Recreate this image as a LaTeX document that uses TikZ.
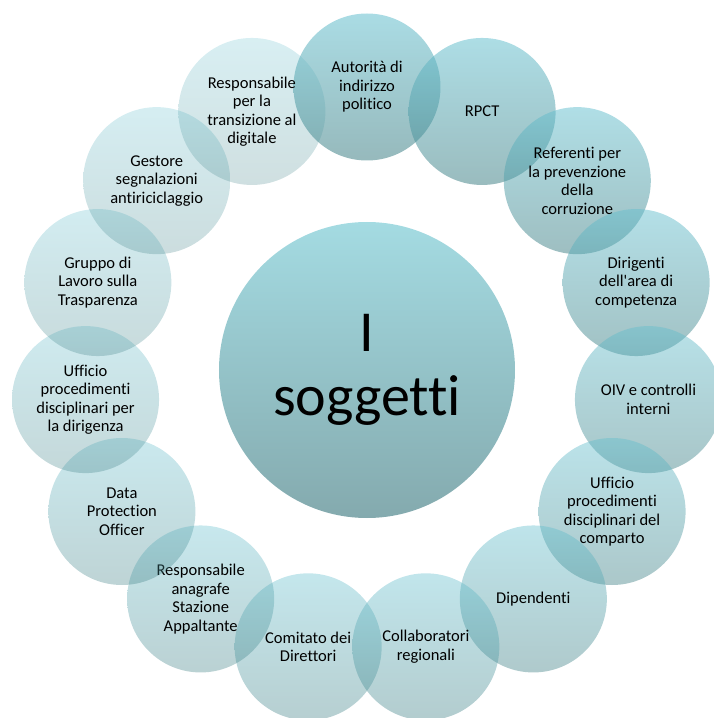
\documentclass[tikz,border=0pt]{standalone}
\usepackage{fontspec}
\setmainfont{Carlito}[Ligatures={NoCommon}]
\usepackage{tikz}
\usetikzlibrary{positioning}

\definecolor{hubtop}{RGB}{164,219,226}
\definecolor{hubbot}{RGB}{132,170,174}
\definecolor{sogtop}{RGB}{100,191,206}
\definecolor{sogbot}{RGB}{64,128,133}

\begin{document}
\begin{tikzpicture}[x=1pt, y=1pt,
  hub/.style={circle, draw=none, minimum size=296pt, inner sep=0pt, top color=hubtop, bottom color=hubbot,
              align=center, font=\fontsize{58}{64}\selectfont},
  sog/.style={circle, draw=none, minimum size=147pt, inner sep=0pt, top color=sogtop, bottom color=sogbot,
              fill opacity=#1, text opacity=1, align=center, font=\fontsize{16.5}{18.5}\selectfont}]
  \clip (-367,-348) rectangle (347,370);
  % Centre
  \node[hub] (sogg) at (0,0) {I\\soggetti};
  % Ring of subjects, clockwise from the top
  \node[sog=.55] (aut)  at (90:283)   {Autorità di\\indirizzo\\politico};
  \node[sog=.53] (rpct) at (66:283)   {RPCT};
  \node[sog=.51] (ref)  at (42:283)   {Referenti per\\la prevenzione\\della\\corruzione};
  \node[sog=.49] (dir)  at (18:283)   {Dirigenti\\dell\textquotesingle area di\\competenza};
  \node[sog=.46] (oiv)  at (-6:283)   {OIV e controlli\\interni};
  \node[sog=.44] (upc)  at (-30:283)  {Ufficio\\procedimenti\\disciplinari del\\comparto};
  \node[sog=.42] (dip)  at (-54:283)  {Dipendenti};
  \node[sog=.40] (coll) at (-78:283)  {Collaboratori\\regionali};
  \node[sog=.38] (com)  at (-102:283) {Comitato dei\\Direttori};
  \node[sog=.36] (rasa) at (-126:283) {Responsabile\\anagrafe\\Stazione\\Appaltante};
  \node[sog=.34] (dpo)  at (-150:283) {Data\\Protection\\Officer};
  \node[sog=.31] (upd)  at (-174:283) {Ufficio\\procedimenti\\disciplinari per\\la dirigenza};
  \node[sog=.29] (glt)  at (162:283)  {Gruppo di\\Lavoro sulla\\Trasparenza};
  \node[sog=.27] (gest) at (138:283)  {Gestore\\segnalazioni\\antiriciclaggio};
  \node[sog=.25] (rtd)  at (114:283)  {Responsabile\\per la\\transizione al\\digitale};
\end{tikzpicture}
\end{document}
